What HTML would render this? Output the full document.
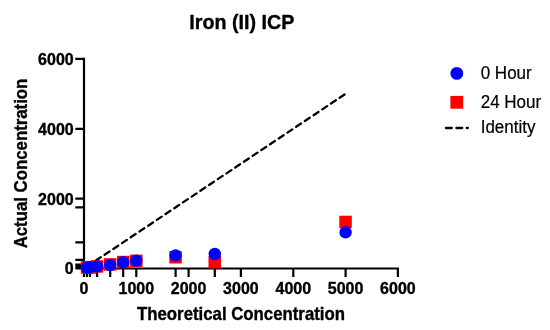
<!DOCTYPE html>
<html><head><meta charset="utf-8">
<style>
html,body{margin:0;padding:0;background:#fff;}
svg{display:block;font-family:"Liberation Sans",sans-serif;}
.b{font-weight:bold;stroke:#000;stroke-width:0.35px;}
</style></head>
<body>
<svg width="550" height="330" viewBox="0 0 550 330">
<rect width="550" height="330" fill="#fff"/>
<text transform="translate(241.8,29.4) scale(1,1.03)" text-anchor="middle" class="b" font-size="19.7">Iron (II) ICP</text>
<g stroke="#000" stroke-width="2.2" fill="none">
<path d="M84.0 57.8V269.6"/>
<path d="M82.9 268.5H399.0"/>
<path d="M75.3 268.5H84.0M75.3 266.5H84.0M75.3 264.5H84.0M75.3 259.8H84.0M75.3 242.3H84.0M75.3 207.4H84.0M75.3 198.6H84.0M75.3 128.8H84.0M75.3 58.9H84.0"/>
<path d="M84.0 268.5V276.9M87.0 268.5V276.9M90.0 268.5V276.9M97.1 268.5V276.9M110.2 268.5V276.9M123.2 268.5V276.9M136.3 268.5V276.9M175.6 268.5V276.9M188.6 268.5V276.9M214.8 268.5V276.9M240.9 268.5V276.9M293.3 268.5V276.9M345.6 268.5V276.9M397.9 268.5V276.9"/>
</g>
<g class="b" font-size="16" text-anchor="end">
<text transform="translate(73.7,274.4) scale(1,1.01)">0</text>
<text transform="translate(73.7,204.5) scale(1,1.01)">2000</text>
<text transform="translate(73.7,134.7) scale(1,1.01)">4000</text>
<text transform="translate(73.7,64.8) scale(1,1.01)">6000</text>
</g>
<g class="b" font-size="16" text-anchor="middle">
<text transform="translate(84.0,293.8) scale(1,1.01)">0</text>
<text transform="translate(136.3,293.8) scale(1,1.01)">1000</text>
<text transform="translate(188.6,293.8) scale(1,1.01)">2000</text>
<text transform="translate(240.9,293.8) scale(1,1.01)">3000</text>
<text transform="translate(293.3,293.8) scale(1,1.01)">4000</text>
<text transform="translate(345.6,293.8) scale(1,1.01)">5000</text>
<text transform="translate(397.9,293.8) scale(1,1.01)">6000</text>
</g>
<text transform="translate(241,319.8) scale(1,1.04)" text-anchor="middle" class="b" font-size="16.8">Theoretical Concentration</text>
<text transform="translate(26.7,163.5) rotate(-90) scale(1,1.04)" text-anchor="middle" class="b" font-size="16.8">Actual Concentration</text>
<path d="M84.0 268.5L345.6 93.8" stroke="#000" stroke-width="2.3" stroke-linecap="round" stroke-dasharray="5.85 4.62" stroke-dashoffset="-3.83" fill="none"/>
<g fill="#ff0000">
<rect x="80.8" y="261.2" width="12.5" height="12.5"/>
<rect x="83.8" y="261.2" width="12.5" height="12.5"/>
<rect x="90.8" y="260.2" width="12.5" height="12.5"/>
<rect x="103.9" y="258.2" width="12.5" height="12.5"/>
<rect x="117.0" y="255.8" width="12.5" height="12.5"/>
<rect x="130.1" y="254.6" width="12.5" height="12.5"/>
<rect x="169.3" y="251.0" width="12.5" height="12.5"/>
<rect x="208.5" y="255.9" width="12.5" height="12.5"/>
<rect x="339.3" y="215.7" width="12.5" height="12.5"/>
</g><g fill="#0000ff">
<circle cx="87.0" cy="267.8" r="6.2"/>
<circle cx="90.0" cy="267.2" r="6.2"/>
<circle cx="97.1" cy="266.4" r="6.2"/>
<circle cx="110.2" cy="265.1" r="6.2"/>
<circle cx="123.2" cy="262.3" r="6.2"/>
<circle cx="136.3" cy="260.6" r="6.2"/>
<circle cx="175.6" cy="255.4" r="6.2"/>
<circle cx="214.8" cy="254.0" r="6.2"/>
<circle cx="345.6" cy="232.3" r="6.2"/>
</g>
<circle cx="456.8" cy="73.4" r="6.4" fill="#0000ff"/>
<rect x="450.4" y="95.9" width="12.8" height="12.8" fill="#ff0000"/>
<path d="M446 128H467.8" stroke="#000" stroke-width="2.3" stroke-linecap="round" stroke-dasharray="5.8 4.6"/>
<g font-size="17" stroke="#000" stroke-width="0.2">
<text transform="translate(480.7,78.8) scale(1,1.05)">0 Hour</text>
<text transform="translate(480.7,108.2) scale(1,1.05)">24 Hour</text>
<text transform="translate(480.7,133.2) scale(1,1.05)">Identity</text>
</g>
</svg>
</body></html>
